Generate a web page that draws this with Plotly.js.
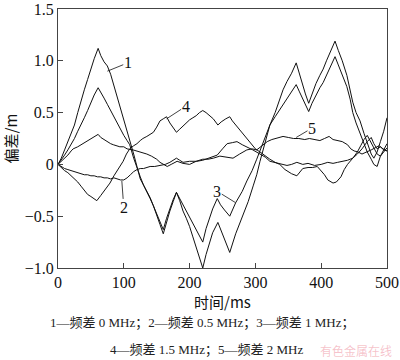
<!DOCTYPE html>
<html>
<head>
<meta charset="utf-8">
<script src="https://cdn.plot.ly/plotly-3.0.1.min.js"></script>
<style>html,body{margin:0;padding:0;background:#fff;}#chart{width:400px;height:360px;}</style>
</head>
<body>
<div id="chart"></div>
<script>
// ---- data (time in ms, deviation in m) ----
const t1 = [0,5,10,15,20,25,30,35,40,45,50,55,61,65,70,75,80,85,90,95,100,105,110,115,120,125,130,135,140,145,150,155,160,165,170,175,180,185,190,195,200,205,210,215,220,225,230,235,243,248,253,261,270,281,289,297,302,307,312,316,322,330,336,342,348,355,362,367,372,376,381,386,392,398,403,408,414,421,426,432,439,444,448,453,459,465,470,476,480,485,490,495,500];
const v1 = [0,0.06,0.14,0.22,0.3,0.38,0.5,0.62,0.72,0.82,0.93,1.02,1.12,1.05,0.99,0.95,0.87,0.76,0.66,0.56,0.45,0.34,0.22,0.1,-0.02,-0.14,-0.2,-0.26,-0.33,-0.4,-0.5,-0.58,-0.67,-0.55,-0.45,-0.36,-0.27,-0.35,-0.45,-0.52,-0.6,-0.7,-0.8,-0.9,-1.0,-0.87,-0.76,-0.66,-0.56,-0.64,-0.72,-0.85,-0.67,-0.5,-0.36,-0.2,-0.1,0.03,0.15,0.25,0.38,0.5,0.62,0.72,0.8,0.88,0.98,0.87,0.77,0.68,0.59,0.68,0.78,0.86,0.92,1.0,1.09,1.19,1.1,1.0,0.86,0.72,0.6,0.5,0.42,0.3,0.2,0.1,0.06,0.12,0.22,0.32,0.45];

const t2 = [0,5,10,15,20,25,30,35,40,45,50,55,60,65,70,75,80,85,90,95,100,105,110,115,120,125,130,135,140,147,155,163,170,180,185,190,200,211,220,230,242,250,257,265,272,280,287,296,307,315,322,333,340,348,355,363,372,380,390,400,410,418,425,432,440,448,455,462,470,476,480,485,490,495,500];
const v2 = [0,-0.02,-0.04,-0.05,-0.06,-0.07,-0.08,-0.09,-0.1,-0.1,-0.11,-0.11,-0.12,-0.12,-0.13,-0.13,-0.14,-0.13,-0.14,-0.15,-0.15,-0.13,-0.1,-0.07,-0.05,-0.04,-0.04,-0.03,-0.02,-0.02,-0.01,0.0,0.02,0.06,0.04,0.02,0.03,0.03,0.04,0.06,0.09,0.15,0.2,0.21,0.22,0.19,0.17,0.14,0.1,0.07,0.03,0.01,0.0,-0.01,0.0,0.02,0.0,0.01,-0.01,0.0,0.02,0.01,0.02,0.03,0.04,0.06,0.1,0.15,0.22,0.26,0.2,0.15,0.17,0.14,0.13];

const t3 = [0,5,10,15,20,25,30,35,40,45,50,55,61,66,70,75,80,85,90,95,100,105,109,115,120,125,130,135,140,145,150,155,160,165,170,175,180,185,190,195,200,205,210,215,220,225,230,235,242,247,253,261,270,280,287,295,302,310,316,322,330,336,342,348,355,362,367,372,376,381,386,392,398,403,408,414,421,426,432,439,444,448,453,459,465,470,476,480,485,490,495,500];
const v3 = [0,0.04,0.09,0.14,0.19,0.25,0.32,0.38,0.45,0.52,0.6,0.67,0.74,0.69,0.64,0.58,0.52,0.46,0.4,0.33,0.28,0.23,0.19,0.06,-0.04,-0.12,-0.2,-0.26,-0.32,-0.4,-0.48,-0.56,-0.63,-0.52,-0.42,-0.34,-0.27,-0.33,-0.38,-0.44,-0.5,-0.56,-0.62,-0.68,-0.75,-0.62,-0.52,-0.43,-0.33,-0.39,-0.44,-0.5,-0.37,-0.26,-0.16,-0.06,0.05,0.18,0.28,0.38,0.46,0.52,0.58,0.64,0.7,0.77,0.7,0.63,0.57,0.51,0.59,0.67,0.74,0.79,0.86,0.95,1.04,0.96,0.87,0.75,0.63,0.5,0.4,0.3,0.2,0.12,0.05,0.0,-0.02,0.08,0.14,0.2];

const t4 = [0,5,10,15,20,25,30,35,40,45,50,55,59,65,70,75,79,85,90,95,99,104,109,115,120,125,129,135,140,145,150,155,160,165,170,175,180,185,190,196,200,205,210,215,220,225,230,236,243,248,255,261,265,270,275,280,285,290,295,300,307,315,322,330,337,345,355,363,368,372,380,387,394,400,405,410,418,423,430,435,440,448,455,460,465,470,475,480,485,490,495,500];
const v4 = [0,-0.03,-0.06,-0.08,-0.11,-0.14,-0.17,-0.21,-0.25,-0.29,-0.31,-0.33,-0.35,-0.3,-0.26,-0.21,-0.18,-0.11,-0.06,-0.01,0.03,0.1,0.15,0.18,0.2,0.23,0.25,0.27,0.29,0.31,0.36,0.42,0.44,0.46,0.4,0.35,0.31,0.34,0.37,0.41,0.43,0.45,0.47,0.5,0.52,0.5,0.47,0.44,0.38,0.41,0.44,0.46,0.42,0.38,0.34,0.31,0.27,0.23,0.18,0.15,0.12,0.08,0.05,0.02,0.0,-0.05,-0.09,-0.11,-0.07,-0.04,-0.03,-0.03,-0.02,-0.06,-0.1,-0.15,-0.18,-0.17,-0.12,-0.05,0.0,0.06,0.12,0.18,0.24,0.28,0.22,0.16,0.1,0.08,0.12,0.16];

const t5 = [0,5,10,15,20,23,30,35,40,44,50,55,61,65,70,74,80,84,90,94,100,105,114,120,128,135,142,150,155,160,166,172,181,190,200,210,220,228,236,246,256,266,276,287,295,302,310,318,325,332,342,350,358,366,375,382,390,398,405,412,418,425,432,440,445,450,456,462,470,476,482,488,494,500];
const v5 = [0,0.03,0.06,0.09,0.13,0.15,0.17,0.19,0.21,0.22,0.25,0.27,0.29,0.26,0.24,0.22,0.2,0.19,0.18,0.17,0.17,0.15,0.14,0.13,0.11,0.1,0.08,0.05,0.02,0.0,-0.02,0.0,0.03,0.01,0.0,0.03,0.05,0.05,0.06,0.08,0.07,0.06,0.1,0.14,0.15,0.14,0.18,0.22,0.24,0.25,0.27,0.26,0.25,0.25,0.24,0.25,0.24,0.23,0.25,0.27,0.24,0.23,0.22,0.19,0.15,0.13,0.12,0.1,0.12,0.14,0.16,0.18,0.15,0.13];

const xTicks = [0,100,200,300,400,500];
const yTickVals = [-1.0,-0.5,0,0.5,1.0,1.5];
const yTickText = ['\u22121.0','\u22120.5','0','0.5','1.0','1.5'];
const curveLabels = ['1','2','3','4','5'];
const captionLine1 = '1\u2014频差 0 MHz；2\u2014频差 0.5 MHz；3\u2014频差 1 MHz；';
const captionLine2 = '4\u2014频差 1.5 MHz；5\u2014频差 2 MHz';

// ---- chart ----
const serif = "'Liberation Serif', 'Noto Sans CJK SC', serif";
const cjk = "'Noto Sans CJK SC', sans-serif";
const series = [[t1,v1],[t2,v2],[t3,v3],[t4,v4],[t5,v5]];
const traces = series.map((s,i)=>({
  x: s[0], y: s[1], type:'scatter', mode:'lines', name: curveLabels[i],
  line:{color:'#111', width:1}, hoverinfo:'skip'
}));

// label anchor (text) and pointed curve location, in data units
const labelText = [[106,0.98],[100,-0.42],[242,-0.26],[194,0.56],[386,0.35]];
const labelPoint = [[75,0.9],[97,-0.16],[270,-0.37],[165,0.44],[362,0.26]];
const annotations = curveLabels.map((lab,i)=>({
  x: labelPoint[i][0], y: labelPoint[i][1], xref:'x', yref:'y',
  ax: labelText[i][0], ay: labelText[i][1], axref:'x', ayref:'y',
  text: lab, showarrow:true, arrowhead:0, arrowwidth:0.8, arrowcolor:'#111',
  font:{family:serif, size:16, color:'#111'}, standoff:0, borderpad:0
}));
annotations.push({
  x:0.438, y:0, xref:'paper', yref:'paper', yshift:-55, yanchor:'middle', xanchor:'center',
  text: captionLine1, showarrow:false, font:{family:serif, size:13, color:'#222'}
});
annotations.push({
  x:0.452, y:0, xref:'paper', yref:'paper', yshift:-82, yanchor:'middle', xanchor:'center',
  text: captionLine2, showarrow:false, font:{family:serif, size:13, color:'#222'}
});
annotations.push({
  x:1.02, y:0, xref:'paper', yref:'paper', yshift:-82, yanchor:'middle', xanchor:'right',
  text: '有色金属在线', showarrow:false, font:{family:cjk, size:12, color:'rgba(235,120,140,0.45)'}
});

const layout = {
  width:400, height:360,
  margin:{l:58, r:13, t:9, b:92},
  paper_bgcolor:'#fff', plot_bgcolor:'#fff',
  showlegend:false,
  font:{family:serif, color:'#111'},
  xaxis:{
    range:[0,500], tickvals:xTicks, ticks:'inside', ticklen:5, tickcolor:'#444',
    showline:true, linecolor:'#444', linewidth:1, mirror:true, showgrid:false, zeroline:false,
    tickfont:{family:serif, size:16, color:'#111'}, ticklabeloverflow:'allow',
    title:{text:'时间/ms', font:{family:cjk, size:15, color:'#111'}, standoff:2}
  },
  yaxis:{
    range:[-1.0,1.5], tickvals:yTickVals, ticktext:yTickText, ticks:'inside', ticklen:5, tickcolor:'#444',
    showline:true, linecolor:'#444', linewidth:1, mirror:true, showgrid:false, zeroline:false,
    tickfont:{family:serif, size:16, color:'#111'}, ticklabeloverflow:'allow',
    title:{text:'偏差/m', font:{family:cjk, size:15, color:'#111'}, standoff:6}
  },
  annotations: annotations
};
Plotly.newPlot('chart', traces, layout, {staticPlot:true, displayModeBar:false});
</script>
</body>
</html>
